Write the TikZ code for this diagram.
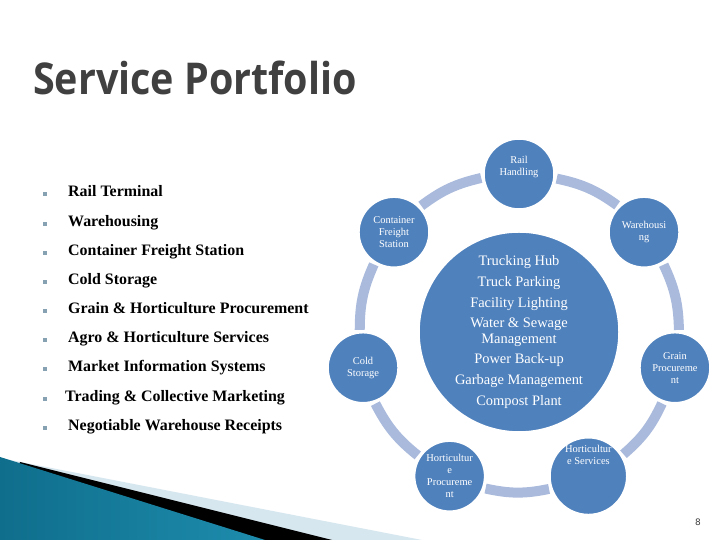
\documentclass[tikz,border=0pt]{standalone}
\usepackage{fontspec}
\setmainfont{Liberation Serif}
\newfontfamily\titlefont{Open Sans}
\newfontfamily\numfont{DejaVu Sans}
\usetikzlibrary{positioning}

\definecolor{sblue}{HTML}{4F81BD}
\definecolor{sring}{HTML}{A9BADC}
\definecolor{sgray}{HTML}{404040}
\definecolor{sbullet}{HTML}{86A2B2}
\definecolor{tealdark}{HTML}{0F6E8C}
\definecolor{teallight}{HTML}{4AAECD}
\definecolor{tealmid}{HTML}{1E8CAD}
\definecolor{stripe}{HTML}{D7E7EF}

\begin{document}
\begin{tikzpicture}[x=1bp, y=1bp, node distance=13.75bp]
\tikzset{
  hub/.style={circle, fill=sblue, draw=white, line width=1.5bp, minimum size=200bp,
    inner sep=0, text=white, align=center, font=\fontsize{14.5}{16}\selectfont},
  sat/.style={circle, fill=sblue, draw=white, line width=1.5bp, minimum size=70bp,
    inner sep=0, outer sep=3bp, text=white, align=center, font=\fontsize{10.5}{12}\selectfont},
  ring/.style={draw=sring, line width=10bp},
  item/.style={font=\fontsize{16}{18}\selectfont\bfseries, text height=11bp,
    text depth=4bp, inner sep=0},
  bullet/.style={fill=sbullet, minimum size=4bp, inner sep=0}
}
\useasboundingbox (0,0) rectangle (720,540);
\fill[white] (0,0) rectangle (720,540);

% corner decoration
\fill[stripe] (0,82) -- (422,0) -- (0,0) -- cycle;
\fill[black] (20,78) -- (332,0) -- (0,0) -- cycle;
\shade[left color=tealdark, middle color=teallight, right color=tealmid]
  (0,83) -- (265,0) -- (0,0) -- cycle;

% title
\node[anchor=base west, inner sep=0, text=sgray, xscale=0.9,
  font=\titlefont\fontsize{44}{48}\selectfont\bfseries]
  (title) at (33,445) {Service Portfolio};

% list
\coordinate (bx) at (45,0);
\node[item, anchor=west] (i1) at (68,346.5) {Rail Terminal};
\node[item] (i2) [below=of i1.south west, anchor=north west] {Warehousing};
\node[item] (i3) [below=of i2.south west, anchor=north west] {Container Freight Station};
\node[item] (i4) [below=of i3.south west, anchor=north west] {Cold Storage};
\node[item] (i5) [below=of i4.south west, anchor=north west] {Grain \& Horticulture Procurement};
\node[item] (i6) [below=of i5.south west, anchor=north west] {Agro \& Horticulture Services};
\node[item] (i7) [below=of i6.south west, anchor=north west] {Market Information Systems};
\node[item] (i8) [below=of i7.south west, anchor=north west, xshift=-3bp] {Trading \& Collective Marketing};
\node[item] (i9) [below=of i8.south west, anchor=north west, xshift=3bp] {Negotiable Warehouse Receipts};
\foreach \i in {1,...,9}
  \node[bullet] (b\i) at ([yshift=-1bp]i\i.west -| bx) {};

% cycle
\node[hub] (hub) at (519,208) {Trucking Hub\\[5bp]Truck Parking\\[5bp]Facility Lighting\\[5bp]%
  Water \& Sewage\\Management\\[4bp]Power Back-up\\[5bp]Garbage Management\\[5bp]Compost Plant};
\node[sat] (rail)     at ([shift={(90:158)}]hub.center)    {Rail\\Handling\\[4bp]\mbox{}};
\node[sat] (cfs)      at ([shift={(141.4:160)}]hub.center) {Container\\Freight\\Station};
\node[sat] (cold)     at ([shift={(192.9:160)}]hub.center) {Cold\\Storage};
\node[sat] (hortproc) at ([shift={(244.3:160)}]hub.center) {Horticultur\\e\\Procureme\\nt};
\node[sat] (hortserv) at ([shift={(295.7:160)}]hub.center) {Horticultur\\e Services\\[30bp]\mbox{}};
\node[sat] (grain)    at ([shift={(347.1:160)}]hub.center) {Grain\\Procureme\\nt};
\node[sat] (wareh)    at ([shift={(38.6:160)}]hub.center)  {Warehousi\\ng};

% ring pieces, leaving each circle where the ring crosses its rim
\foreach \a/\b/\t in {rail/cfs/90, cfs/cold/141.4, cold/hortproc/192.9,
    hortproc/hortserv/244.3, hortserv/grain/295.7, grain/wareh/347.1, wareh/rail/398.6}{
  \pgfmathsetmacro\s{\t+96.9}
  \pgfmathsetmacro\e{\t+51.43-96.9}
  \path[ring] (\a.\s) edge[bend right=12] (\b.\e);
}

\node[font=\numfont\fontsize{9}{10}\selectfont, text=sgray] (pagenum) at (698,18) {8};
\end{tikzpicture}
\end{document}
